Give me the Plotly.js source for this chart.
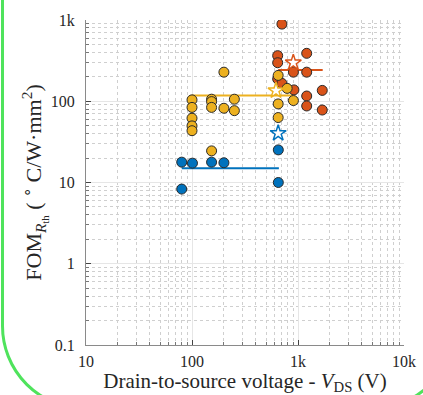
<!DOCTYPE html>
<html>
<head>
<meta charset="utf-8">
<script src="https://cdn.plot.ly/plotly-3.0.1.min.js"></script>
<style>
  html, body { margin: 0; padding: 0; background: #ffffff; overflow: hidden; }
  #frame { position: absolute; left: 1px; top: -100px; width: 455px; height: 510px;
           box-sizing: border-box; border: 3px solid #4fe35c; border-radius: 84px; z-index: 0; }
  #chart { position: absolute; left: 0; top: 0; width: 423px; height: 395px; z-index: 1; }
</style>
</head>
<body>
<div id="frame"></div>
<div id="chart"></div>
<script>
// ---- data ----
var blueX = [80, 80, 101, 153, 200, 652, 652];
var blueY = [17.8, 8.3, 17.3, 17.8, 17.5, 25.2, 10];

var yellowX = [100, 100, 100, 100, 100, 153, 153, 153, 153, 200, 200, 251, 251, 650, 650, 650, 790, 905];
var yellowY = [104, 84, 61.8, 49.7, 43.4, 106, 99, 84, 24.5, 228, 82, 106, 76.6, 208, 92.7, 63, 144, 102];

var redX = [705, 643, 643, 1208, 905, 1208, 643, 705, 915, 1208, 1694, 1208, 1694];
var redY = [890, 364, 298, 389, 228, 228, 188, 166, 138, 116, 136, 87.5, 78];

var blueLineX = [80, 660];   var blueLineY = [15, 15];
var yellowLineX = [100, 900]; var yellowLineY = [118, 118];
var redLineX = [650, 1710];  var redLineY = [243, 243];

var blueStarX = [650];  var blueStarY = [40.4];
var yellowStarX = [620]; var yellowStarY = [135];
var redStarX = [903];   var redStarY = [298];

var xTickVals = [10, 100, 1000, 10000];
var xTickText = ['10', '100', '1k', '10k'];
var yTickVals = [0.1, 1, 10, 100, 1000];
var yTickText = ['0.1', '1', '10', '100', '1k'];

// minor (2..9 within each decade) grid positions
function minorVals(decades) {
  var out = [];
  for (var i = 0; i < decades.length - 1; i++)
    for (var k = 2; k <= 9; k++) out.push(decades[i] * k);
  return out;
}

// ---- styling ----
var cBlue = '#0072BD', cYellow = '#EDB120', cRed = '#D95319';
var edge = '#2a2a2a';

function dots(x, y, c, name) {
  return { x: x, y: y, type: 'scatter', mode: 'markers', name: name,
    marker: { size: 10, color: c, line: { color: edge, width: 1 } } };
}
function line(x, y, c, name) {
  return { x: x, y: y, type: 'scatter', mode: 'lines', name: name,
    line: { color: c, width: 2 } };
}
function star(x, y, c, name) {
  return { x: x, y: y, type: 'scatter', mode: 'markers', name: name,
    marker: { symbol: 'star', size: 12, color: '#ffffff', line: { color: c, width: 1.5 } } };
}

var traces = [
  line(blueLineX, blueLineY, cBlue, 'blue mean'),
  line(yellowLineX, yellowLineY, cYellow, 'yellow mean'),
  line(redLineX, redLineY, cRed, 'red mean'),
  dots(redX, redY, cRed, 'red'),
  dots(yellowX, yellowY, cYellow, 'yellow'),
  dots(blueX, blueY, cBlue, 'blue'),
  star(blueStarX, blueStarY, cBlue, 'blue star'),
  star(yellowStarX, yellowStarY, cYellow, 'yellow star'),
  star(redStarX, redStarY, cRed, 'red star')
];

var fontFam = 'Liberation Serif';
function minorSpec(vals) {
  return { tickmode: 'array', tickvals: vals, ticks: 'inside', ticklen: 3, tickcolor: '#777',
           showgrid: true, gridcolor: '#cfcfcf', griddash: 'dot', gridwidth: 1 };
}
var layout = {
  width: 423, height: 395,
  margin: { l: 86, r: 19, t: 20, b: 50, pad: 0 },
  paper_bgcolor: 'rgba(0,0,0,0)', plot_bgcolor: '#ffffff',
  showlegend: false,
  font: { family: fontFam, size: 16, color: '#262626' },
  xaxis: {
    type: 'log', range: [1, 4], tickmode: 'array', tickvals: xTickVals, ticktext: xTickText,
    ticks: 'inside', ticklen: 5, tickcolor: '#444', tickwidth: 1,
    showline: true, linecolor: '#8a8a8a', linewidth: 1, mirror: false,
    showgrid: true, gridcolor: '#e6e6e6', gridwidth: 1, zeroline: false,
    minor: minorSpec(minorVals(xTickVals)),
    tickfont: { family: fontFam, size: 16 }, ticklabelstandoff: 2,
    title: { text: 'Drain-to-source voltage - <i>V</i><sub>DS</sub> (V)', font: { family: fontFam, size: 21 }, standoff: 3 }
  },
  yaxis: {
    type: 'log', range: [-1, 3], tickmode: 'array', tickvals: yTickVals, ticktext: yTickText,
    ticks: 'inside', ticklen: 5, tickcolor: '#444', tickwidth: 1,
    showline: true, linecolor: '#8a8a8a', linewidth: 1, mirror: false,
    showgrid: true, gridcolor: '#e6e6e6', gridwidth: 1, zeroline: false,
    minor: minorSpec(minorVals(yTickVals)),
    tickfont: { family: fontFam, size: 16 }, ticklabelstandoff: 7,
    title: { text: 'FOM<sub><i>R</i><sub>th</sub></sub> ( <sup>∘</sup> C/W·mm<sup>2</sup>)', font: { family: fontFam, size: 22 }, standoff: 2 }
  }
};

Plotly.newPlot('chart', traces, layout, { staticPlot: true, displayModeBar: false });
</script>
</body>
</html>
